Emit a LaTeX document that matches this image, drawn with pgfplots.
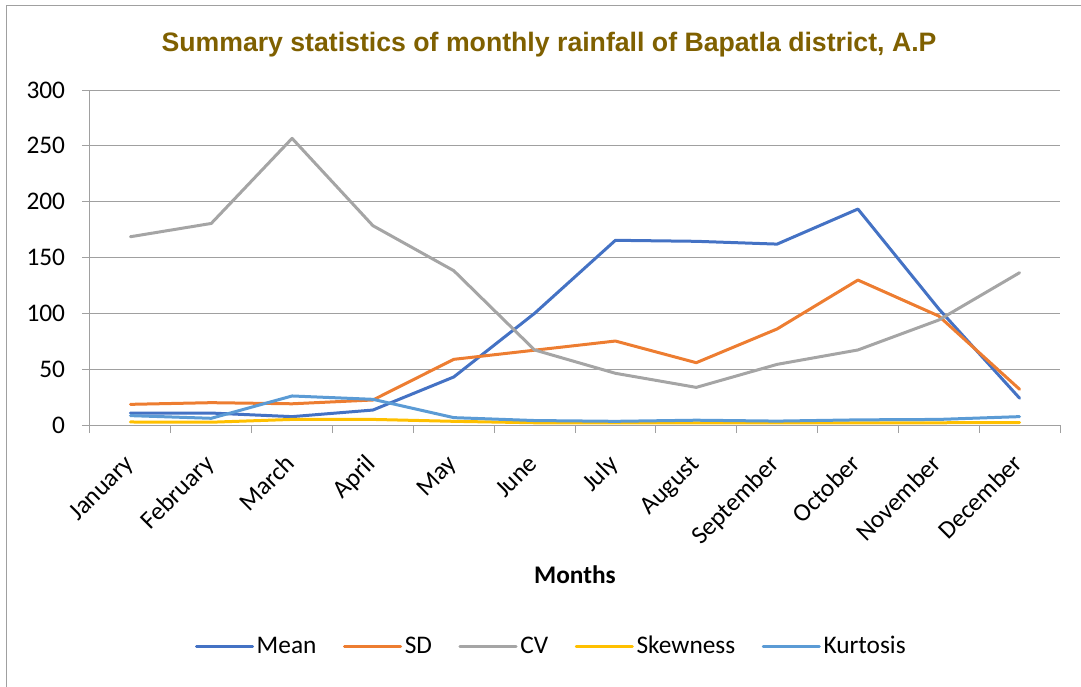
\documentclass[border=0pt]{standalone}
\usepackage{pgfplots}
\pgfplotsset{compat=1.18}
\usepackage{fontspec}
\setmainfont{Carlito}
\newfontfamily\titlefont{Liberation Sans}
\definecolor{cMean}{HTML}{4472C4}
\definecolor{cSD}{HTML}{ED7D31}
\definecolor{cCV}{HTML}{A5A5A5}
\definecolor{cSkew}{HTML}{FFC000}
\definecolor{cKurt}{HTML}{5B9BD5}
\definecolor{gridgray}{HTML}{A0A0A0}
\definecolor{titlecol}{HTML}{7F6000}
\begin{document}
\begin{tikzpicture}[x=1pt,y=1pt]
\useasboundingbox (-67.5,-195.75) rectangle (743.25,318.75);
\draw[gridgray, line width=0.75pt] (-62.25,-260) -- (-62.25,314.25) -- (800,314.25);
\begin{axis}[
  at={(0pt,0pt)}, anchor=south west,
  scale only axis, width=727.5pt, height=251.25pt,
  xmin=-0.5, xmax=11.5, ymin=0, ymax=300,
  ytick={0,50,...,300},
  xtick={-0.5,0.5,...,11.5}, xticklabels={},
  extra x ticks={0,1,...,11},
  extra x tick labels={January,February,March,April,May,June,July,August,September,October,November,December},
  extra x tick style={major tick length=0pt, xticklabel style={xshift=0pt, yshift=-27pt, rotate=45, anchor=east, inner sep=0pt, text height=13pt, text depth=4pt}},
  axis x line*=bottom, axis y line*=left,
  axis line style={gridgray, line width=0.75pt, -},
  tick style={gridgray, line width=0.75pt},
  tick align=outside, major tick length=6pt,
  ymajorgrids, grid style={gridgray, line width=0.75pt},
  tick label style={font=\fontsize{19}{22}\selectfont, text=black},
  /pgf/number format/assume math mode=true,
  yticklabel style={anchor=east, inner sep=0pt, xshift=-12.5pt},
  legend style={at={(0.476,-0.66)}, anchor=center, draw=none, fill=none,
    font=\fontsize{19}{22}\selectfont, legend columns=5,
    /tikz/every even column/.append style={column sep=18pt}},
  legend image code/.code={\draw[#1] (0pt,0pt) -- (40pt,0pt); \path (0pt,0pt) -- (42pt,0pt);},
  every axis plot/.append style={line width=2.25pt, line join=round, line cap=round},
  clip=false,
]
\addplot[cMean] coordinates {(0,10.7)(1,10.7)(2,7.5)(3,13.4)(4,43)(5,100)(6,165.4)(7,164.5)(8,162)(9,193.4)(10,104)(11,24)};
\addlegendentry{Mean}
\addplot[cSD] coordinates {(0,18.5)(1,20)(2,19)(3,22.4)(4,58.8)(5,67)(6,75.2)(7,55.8)(8,86)(9,129.8)(10,97.6)(11,32)};
\addlegendentry{SD}
\addplot[cCV] coordinates {(0,168.6)(1,180.5)(2,256.7)(3,178.5)(4,138.2)(5,67.2)(6,46.3)(7,33.7)(8,54.3)(9,67.2)(10,94)(11,136.4)};
\addlegendentry{CV}
\addplot[cSkew] coordinates {(0,2.7)(1,2.5)(2,5)(3,5)(4,3.3)(5,2)(6,1.8)(7,1.8)(8,1.9)(9,2)(10,2)(11,2.2)};
\addlegendentry{Skewness}
\addplot[cKurt] coordinates {(0,8.4)(1,6)(2,26)(3,23)(4,6.6)(5,4)(6,3.3)(7,4.3)(8,3.5)(9,4.6)(10,5)(11,7.5)};
\addlegendentry{Kurtosis}
\end{axis}
\node[font=\titlefont\bfseries\fontsize{20}{24}\selectfont, text=titlecol] at (344.25,285) {Summary statistics of monthly rainfall of Bapatla district, A.P};
\node[font=\bfseries\fontsize{19}{22}\selectfont] at (363.75,-112.5) {Months};
\end{tikzpicture}
\end{document}
